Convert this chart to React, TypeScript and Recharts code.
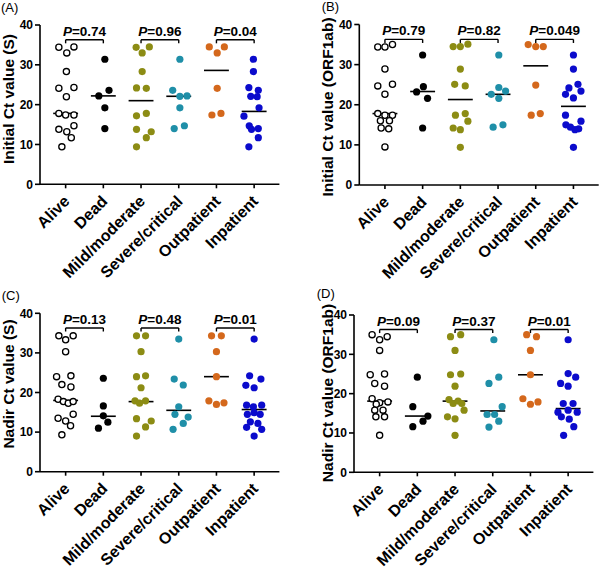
import { ScatterChart, Scatter, XAxis, YAxis, ReferenceLine } from 'recharts';

const categories = ['Alive', 'Dead', 'Mild/moderate', 'Severe/critical', 'Outpatient', 'Inpatient'];
const groupColors = ['#ffffff', '#000000', '#8c8c14', '#1f8fa8', '#d4681c', '#0b0bcc'];
const yTicks = [0, 10, 20, 30, 40];

// (A) initial Ct, S gene
const initialSValues = [
  [34.4, 34.5, 33.0, 28.3, 24.1, 24.3, 22.0, 17.8, 17.4, 17.4, 13.8, 13.2, 14.7, 11.7, 9.4],
  [31.4, 23.6, 22.2, 19.2, 14.0],
  [34.4, 34.5, 33.0, 28.3, 24.2, 24.1, 17.2, 17.8, 13.8, 13.2, 11.7, 9.4],
  [31.4, 23.6, 22.1, 22.2, 19.2, 14.0, 14.7],
  [34.5, 33.0, 34.5, 24.1, 17.4, 17.8],
  [31.4, 28.3, 24.3, 23.6, 22.1, 22.0, 19.2, 17.1, 14.7, 13.8, 14.0, 11.7, 9.4],
];
const initialSJitter = [
  [-0.18, 0.22, 0.03, 0.02, -0.18, 0.22, 0.02, -0.18, 0, 0.22, -0.18, 0.03, 0.22, 0.15, -0.1],
  [0.04, 0.15, -0.12, 0.04, 0.04],
  [-0.13, 0.22, 0.03, 0.03, -0.12, 0.14, -0.12, 0.14, -0.12, 0.27, 0.14, -0.12],
  [0.03, -0.16, 0.03, 0.22, 0.03, -0.12, 0.15],
  [-0.19, 0.02, 0.21, 0.02, -0.12, 0.12],
  [-0.02, -0.02, -0.14, 0.11, -0.09, 0.08, 0.13, -0.27, -0.13, -0.07, 0.11, 0.11, -0.14],
];
const initialSMedians = [17.8, 22.2, 21.0, 22.1, 28.6, 18.3];
const initialSP = ['0.74', '0.96', '0.04'];

// (B) initial Ct, ORF1ab
const initialOValues = [
  [34.4, 34.4, 35.0, 28.9, 24.7, 25.1, 22.6, 17.8, 17.4, 17.4, 16.0, 16.0, 14.2, 14.0, 9.5],
  [32.4, 24.5, 23.2, 21.6, 14.2],
  [34.5, 34.5, 35.1, 28.9, 25.1, 24.7, 17.4, 17.8, 15.9, 14.2, 13.8, 9.4],
  [32.4, 24.3, 22.6, 23.4, 21.6, 14.4, 15.0],
  [35.0, 34.5, 34.5, 24.9, 17.4, 17.8],
  [32.4, 28.9, 25.1, 24.2, 23.4, 22.6, 21.7, 17.4, 15.0, 15.9, 14.4, 14.0, 13.8, 9.4],
];
const initialOJitter = [
  [-0.19, 0, 0.2, 0, -0.19, 0.2, 0, -0.19, 0, 0.2, -0.12, 0.12, -0.1, 0.1, 0],
  [0, 0.02, -0.16, 0.13, 0],
  [-0.19, 0, 0.2, 0, -0.15, 0.13, -0.13, 0.13, 0.2, -0.19, 0, 0],
  [0.02, 0.02, -0.18, 0.2, 0.02, -0.13, 0.13],
  [-0.2, 0, 0.2, 0, -0.12, 0.12],
  [0, 0, 0.12, -0.12, 0.2, -0.21, 0, -0.21, -0.2, 0.2, -0.08, 0.14, 0.04, 0],
];
const initialOMedians = [17.8, 23.3, 21.3, 22.6, 29.7, 19.6];
const initialOP = ['0.79', '0.82', '0.049'];

// (C) nadir Ct, S gene
const nadirSValues = [
  [34.3, 33.3, 34.3, 30.3, 24.0, 24.2, 22.0, 21.4, 18.3, 17.7, 17.3, 17.7, 13.5, 12.8, 14.5, 11.6, 9.3],
  [23.6, 16.6, 14.1, 12.5, 11.0],
  [34.3, 34.3, 30.3, 24.0, 24.2, 21.2, 17.9, 17.9, 17.3, 13.4, 12.8, 11.3, 9.0],
  [33.5, 23.4, 21.9, 16.4, 14.5, 13.8, 12.2, 10.7],
  [34.3, 34.3, 30.3, 24.0, 17.9, 17.0, 17.4],
  [33.5, 24.2, 23.4, 21.8, 21.2, 16.8, 16.4, 16.8, 14.5, 14.9, 14.5, 12.6, 12.2, 11.2, 10.7, 9.0],
];
const nadirSJitter = [
  [-0.18, 0, 0.2, 0, -0.24, 0.14, -0.1, 0.14, -0.2, -0.06, 0.07, 0.2, -0.2, 0, 0.2, 0.13, -0.1],
  [0, 0, 0, 0.12, -0.13],
  [-0.12, 0.12, 0, -0.12, 0.12, 0, -0.16, 0.12, -0.04, -0.12, 0.27, 0.12, -0.12],
  [0, -0.12, 0.12, 0, -0.1, 0.25, 0.12, -0.15],
  [-0.13, 0.13, 0, 0, -0.2, 0, 0.2],
  [0, -0.12, 0.18, -0.22, 0, -0.2, -0.02, 0.2, -0.18, 0, 0.16, -0.1, 0.1, -0.2, 0.2, 0],
];
const nadirSMedians = [18.0, 14.0, 17.7, 15.5, 24.0, 15.7];
const nadirSP = ['0.13', '0.48', '0.01'];

// (D) nadir Ct, ORF1ab
const nadirOValues = [
  [35.0, 33.7, 34.5, 31.0, 24.8, 25.0, 22.6, 21.9, 18.7, 17.7, 17.9, 17.3, 15.8, 15.8, 14.1, 14.1, 9.4],
  [24.2, 16.7, 14.3, 13.0, 11.6],
  [34.5, 35.0, 31.0, 24.8, 25.0, 21.9, 18.5, 17.5, 18.1, 17.5, 15.8, 14.1, 13.6, 9.4],
  [33.7, 24.2, 22.6, 16.7, 14.7, 14.7, 13.0, 11.5],
  [35.0, 34.5, 31.0, 24.8, 18.7, 17.3, 17.9],
  [33.7, 25.1, 24.2, 22.6, 21.9, 17.5, 17.5, 15.3, 15.8, 15.3, 14.1, 13.5, 11.6, 9.4],
];
const nadirOJitter = [
  [-0.2, 0, 0.2, 0, -0.25, 0.13, -0.13, 0.13, -0.2, 0, 0.22, -0.09, -0.13, 0.09, -0.1, 0.13, 0],
  [0, -0.12, 0.28, 0.15, -0.12],
  [-0.12, 0.15, 0, -0.12, 0.15, 0, -0.16, -0.05, 0.08, 0.18, 0.24, -0.2, 0, 0],
  [0.03, 0.16, -0.1, 0.25, -0.15, 0.05, 0.16, -0.1],
  [-0.1, 0.16, 0, 0, -0.2, 0, 0.2],
  [0, 0, 0.2, -0.2, 0, -0.13, 0.13, -0.27, 0, 0.24, -0.18, 0.03, 0.15, -0.12],
];
const nadirOMedians = [18.1, 14.3, 18.1, 15.6, 24.8, 16.2];
const nadirOP = ['0.09', '0.37', '0.01'];

const FONT = "Arial, 'Liberation Sans', Helvetica, sans-serif";
const BRACKET_Y = 36.3;
const BRACKET_DROP = 0.9;
const MEDIAN_HALF = 0.33;

const panels = [
  {
    letter: '(A)', title: 'Initial Ct value (S)', values: initialSValues, jitter: initialSJitter,
    medians: initialSMedians, pvals: initialSP,
    left: 0, top: 0, yAxisWidth: 40, marginRight: 20.6, marginTop: 25, xAxisHeight: 100.7,
    titleX: 14, titleY: 99, letterX: 1, letterY: 11.5,
  },
  {
    letter: '(B)', title: 'Initial Ct value (ORF1ab)', values: initialOValues, jitter: initialOJitter,
    medians: initialOMedians, pvals: initialOP,
    left: 300, top: 0, yAxisWidth: 59.3, marginRight: 1.3, marginTop: 24.5, xAxisHeight: 100,
    titleX: 33, titleY: 107, letterX: 21.7, letterY: 11,
  },
  {
    letter: '(C)', title: 'Nadir Ct value (S)', values: nadirSValues, jitter: nadirSJitter,
    medians: nadirSMedians, pvals: nadirSP,
    left: 0, top: 285, yAxisWidth: 40, marginRight: 20.6, marginTop: 28.3, xAxisHeight: 98.3,
    titleX: 14, titleY: 99, letterX: 1.7, letterY: 14.5,
  },
  {
    letter: '(D)', title: 'Nadir Ct value (ORF1ab)', values: nadirOValues, jitter: nadirOJitter,
    medians: nadirOMedians, pvals: nadirOP,
    left: 300, top: 285, yAxisWidth: 54, marginRight: 6.6, marginTop: 30, xAxisHeight: 97.7,
    titleX: 33, titleY: 108, letterX: 16.7, letterY: 12.5,
  },
];

function CatTick(props: any) {
  const { x, y, payload } = props;
  const tx = x + 5;
  const ty = y + 12;
  return (
    <text
      x={tx}
      y={ty}
      transform={`rotate(-45 ${tx} ${ty})`}
      textAnchor="end"
      fontSize={16}
      fontWeight="bold"
      fontFamily={FONT}
      fill="#000"
    >
      {categories[payload.value]}
    </text>
  );
}

function PanelText(props: any) {
  const { caption, letter, tx, ty, lx, ly } = props;
  return (
    <g>
      <text x={lx} y={ly} fontSize={13} fontFamily={FONT} fill="#000">
        {letter}
      </text>
      <text
        x={tx}
        y={ty}
        transform={`rotate(-90 ${tx} ${ty})`}
        textAnchor="middle"
        fontSize={15.5}
        fontWeight="bold"
        fontFamily={FONT}
        fill="#000"
      >
        {caption}
      </text>
    </g>
  );
}

function PLabel(props: any) {
  const { viewBox, pval } = props;
  if (!viewBox) return null;
  const x = viewBox.x + viewBox.width / 2;
  const y = viewBox.y - 4;
  return (
    <text x={x} y={y} textAnchor="middle" fontSize={13.5} fontWeight="bold" fontFamily={FONT} fill="#000">
      <tspan fontStyle="italic">P</tspan>={pval}
    </text>
  );
}

function Panel({ p }: { p: (typeof panels)[number] }) {
  return (
    <div style={{ position: 'absolute', left: p.left, top: p.top }}>
      <ScatterChart
        width={300}
        height={285}
        margin={{ top: p.marginTop, right: p.marginRight, bottom: 0, left: 0 }}
      >
        <XAxis
          type="number"
          dataKey="x"
          domain={[-0.68, 5.67]}
          ticks={[0, 1, 2, 3, 4, 5]}
          interval={0}
          allowDataOverflow
          height={p.xAxisHeight}
          tickSize={4}
          tickMargin={2}
          tick={<CatTick />}
          axisLine={{ stroke: '#000', strokeWidth: 1.6 }}
          tickLine={{ stroke: '#000', strokeWidth: 1.6 }}
        />
        <YAxis
          type="number"
          dataKey="y"
          domain={[0, 40]}
          ticks={yTicks}
          interval={0}
          allowDataOverflow
          width={p.yAxisWidth}
          tickSize={5}
          tickMargin={2}
          tick={{ fontSize: 12, fontWeight: 700, fill: '#000', fontFamily: FONT }}
          axisLine={{ stroke: '#000', strokeWidth: 1.6 }}
          tickLine={{ stroke: '#000', strokeWidth: 1.6 }}
          label={
            <PanelText
              caption={p.title}
              letter={p.letter}
              tx={p.titleX}
              ty={p.titleY}
              lx={p.letterX}
              ly={p.letterY}
            />
          }
        />
        {p.values.map((vals, g) => (
          <Scatter
            key={`s${g}`}
            data={vals.map((v, i) => ({ x: g + p.jitter[g][i], y: v }))}
            isAnimationActive={false}
            shape={(d: any) =>
              g === 0 ? (
                <circle cx={d.cx} cy={d.cy} r={3.1} fill="#fff" stroke="#000" strokeWidth={1.3} />
              ) : (
                <circle cx={d.cx} cy={d.cy} r={3.6} fill={groupColors[g]} />
              )
            }
          />
        ))}
        {p.medians.map((m, g) => (
          <ReferenceLine
            key={`m${g}`}
            segment={[
              { x: g - MEDIAN_HALF, y: m },
              { x: g + MEDIAN_HALF, y: m },
            ]}
            stroke="#000"
            strokeWidth={1.6}
          />
        ))}
        {p.pvals.map((pv, k) => [
          <ReferenceLine
            key={`bh${k}`}
            segment={[
              { x: 2 * k, y: BRACKET_Y },
              { x: 2 * k + 1, y: BRACKET_Y },
            ]}
            stroke="#000"
            strokeWidth={1.4}
            label={<PLabel pval={pv} />}
          />,
          <ReferenceLine
            key={`bl${k}`}
            segment={[
              { x: 2 * k, y: BRACKET_Y },
              { x: 2 * k, y: BRACKET_Y - BRACKET_DROP },
            ]}
            stroke="#000"
            strokeWidth={1.4}
          />,
          <ReferenceLine
            key={`br${k}`}
            segment={[
              { x: 2 * k + 1, y: BRACKET_Y },
              { x: 2 * k + 1, y: BRACKET_Y - BRACKET_DROP },
            ]}
            stroke="#000"
            strokeWidth={1.4}
          />,
        ])}
      </ScatterChart>
    </div>
  );
}

export default function App() {
  return (
    <div
      style={{
        position: 'absolute',
        left: 0,
        top: 0,
        width: 601,
        height: 570,
        background: '#fff',
        overflow: 'hidden',
      }}
    >
      {panels.map((p) => (
        <Panel key={p.letter} p={p} />
      ))}
    </div>
  );
}
